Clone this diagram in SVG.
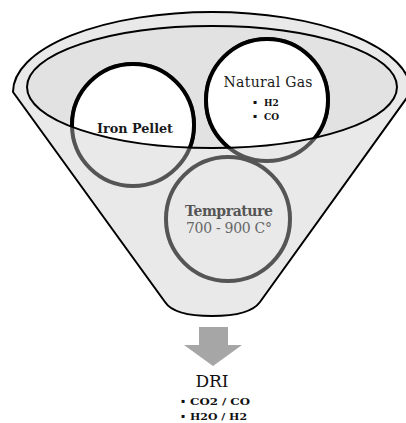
<svg xmlns="http://www.w3.org/2000/svg" width="406" height="423" viewBox="0 0 406 423">
  <defs>
    <clipPath id="topClip">
      <ellipse cx="212" cy="87" rx="185" ry="61"/>
    </clipPath>
    <style>
      .serif { font-family: "DejaVu Serif", "Liberation Serif", serif; }
      .ring-gray { fill: none; stroke: #555555; stroke-width: 4; }
      .ring-black { fill: #ffffff; stroke: #000000; stroke-width: 4; }
      .title { font-size: 14px; fill: #1a1a1a; }
      .bullet { font-size: 9px; font-weight: bold; fill: #111111; }
      .dot { font-size: 6px; fill: #111111; }
      .small { font-size: 10px; font-weight: bold; fill: #111111; }
    </style>
  </defs>
  <rect x="0" y="0" width="406" height="423" fill="#ffffff"/>

  <g id="funnel">
    <path d="M 13 92 A 199 80 0 0 1 411 92 L 260 302 Q 250 316 212 316 Q 174 316 165 302 Z" fill="#e9e9e9" stroke="#000000" stroke-width="2"/>
    <ellipse cx="212" cy="87" rx="185" ry="61" fill="#e2e2e2" stroke="none"/>
  </g>

  <g id="temperature">
    <circle cx="228" cy="219" r="62" fill="#e8e8e8" class="ring-gray"/>
    <text class="serif" x="229" y="216" text-anchor="middle" font-size="14" font-weight="bold" fill="#555555" textLength="88" lengthAdjust="spacing">Temprature</text>
    <text class="serif" x="229" y="233" text-anchor="middle" font-size="14" fill="#666666" textLength="86" lengthAdjust="spacing">700 - 900 C°</text>
  </g>

  <g id="iron-pellet">
    <circle cx="133" cy="125" r="61" class="ring-gray"/>
    <circle cx="133" cy="125" r="61" class="ring-black" clip-path="url(#topClip)"/>
  </g>

  <g id="natural-gas">
    <circle cx="267" cy="100" r="61" class="ring-gray"/>
    <circle cx="267" cy="100" r="61" class="ring-black" clip-path="url(#topClip)"/>
  </g>

  <g id="rim">
    <ellipse cx="212" cy="87" rx="185" ry="61" fill="none" stroke="#000000" stroke-width="2"/>
  </g>

  <g id="labels">
    <text class="serif" x="135" y="133" text-anchor="middle" font-size="13" font-weight="bold" fill="#1a1a1a" textLength="76" lengthAdjust="spacingAndGlyphs">Iron Pellet</text>
    <text class="serif title" x="268" y="87" text-anchor="middle" textLength="89" lengthAdjust="spacing">Natural Gas</text>
    <text class="serif dot" x="253" y="104">▪</text>
    <text class="serif bullet" x="264" y="106">H2</text>
    <text class="serif dot" x="253" y="118">▪</text>
    <text class="serif bullet" x="264" y="120">CO</text>
  </g>

  <g id="connectors">
    <path d="M 199 327 L 228 327 L 228 345 L 242 345 L 213 366 L 184 345 L 199 345 Z" fill="#a6a6a6"/>
  </g>

  <g id="dri">
    <text class="serif" x="212" y="387" text-anchor="middle" font-size="17" fill="#111111">DRI</text>
    <text class="serif dot" x="181" y="403">▪</text>
    <text class="serif small" x="190" y="405" textLength="60" lengthAdjust="spacingAndGlyphs">CO2 / CO</text>
    <text class="serif dot" x="181" y="418">▪</text>
    <text class="serif small" x="190" y="420" textLength="57" lengthAdjust="spacingAndGlyphs">H2O / H2</text>
  </g>
</svg>
